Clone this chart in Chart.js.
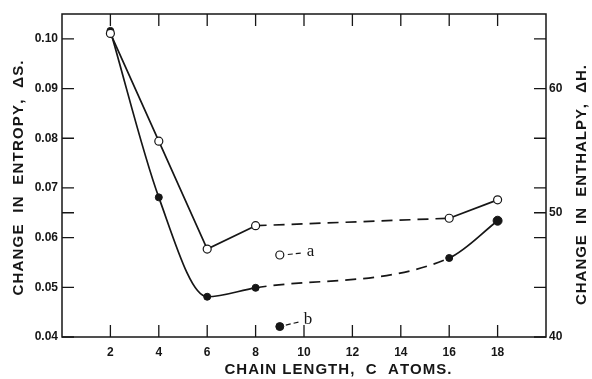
<!DOCTYPE html>
<html>
<head>
<meta charset="utf-8">
<script src="https://cdn.jsdelivr.net/npm/chart.js@4.4.0/dist/chart.umd.min.js"></script>
<style>
  html, body { margin: 0; padding: 0; background: #fff; }
  #wrap { width: 592px; height: 379px; }
</style>
</head>
<body>
<div id="wrap"><canvas id="chart" width="592" height="379"></canvas></div>
<script>
// values
var chainLength = [2, 4, 6, 8, 16, 18];
var entropyA = [0.1011, 0.0794, 0.0577, 0.0624, 0.0639, 0.0676];
var entropyB = [0.1016, 0.0681, 0.0481, 0.0499, 0.0559, 0.0634];
var extraX = [9];
var extraA = [0.0565];
var extraB = [0.0421];
var xTicks = [2, 4, 6, 8, 10, 12, 14, 16, 18];
var leftTicks = [0.04, 0.05, 0.06, 0.065, 0.07, 0.08, 0.09, 0.10];
var rightTicks = [40, 44, 48, 50, 52, 56, 60, 64];
var rightLabels = [40, 50, 60];
var dashFrom = 8, dashTo = 16;

var ink = '#161616';
var tickFont = { family: 'Liberation Sans', size: 12, weight: 'bold' };

function pts(xs, ys) {
  var out = [];
  for (var i in xs) out.push({ x: xs[i], y: ys[i] });
  return out;
}

function dashSeg(ctx) {
  return (ctx.p0.parsed.x === dashFrom && ctx.p1.parsed.x === dashTo) ? [11, 7] : undefined;
}

// draw text char by char so it fills a given length
function spacedText(ctx, text, cx, cy, target) {
  var w = 0, ws = [];
  for (var i = 0; i < text.length; i++) { ws.push(ctx.measureText(text[i]).width); w += ws[i]; }
  var gap = (target - w) / (text.length - 1);
  var x = cx - target / 2;
  ctx.textAlign = 'left';
  for (var j = 0; j < text.length; j++) {
    ctx.fillText(text[j], x, cy);
    x += ws[j] + gap;
  }
}

var decor = {
  id: 'decor',
  afterDraw: function(chart) {
    var c = chart.ctx, a = chart.chartArea;
    var sx = chart.scales.x, sy = chart.scales.y, sy2 = chart.scales.y2;
    c.save();
    c.strokeStyle = ink;
    c.lineWidth = 1.5;
    c.strokeRect(a.left, a.top, a.right - a.left, a.bottom - a.top);

    // inward tick marks
    c.lineWidth = 1.3;
    c.beginPath();
    xTicks.forEach(function(v) {
      var p = sx.getPixelForValue(v);
      c.moveTo(p, a.bottom); c.lineTo(p, a.bottom - 12);
      c.moveTo(p, a.top); c.lineTo(p, a.top + 12);
    });
    leftTicks.forEach(function(v) {
      var p = sy.getPixelForValue(v);
      c.moveTo(a.left, p); c.lineTo(a.left + 12, p);
    });
    rightTicks.forEach(function(v) {
      var p = sy2.getPixelForValue(v);
      c.moveTo(a.right, p); c.lineTo(a.right - 12, p);
    });
    c.stroke();

    // axis titles
    c.fillStyle = ink;
    c.font = 'bold 15px "Liberation Sans"';
    c.textBaseline = 'middle';
    spacedText(c, 'CHAIN LENGTH,  C  ATOMS.', 338, 370, 227);
    c.save();
    c.translate(19, 178);
    c.rotate(-Math.PI / 2);
    spacedText(c, 'CHANGE  IN  ENTROPY,  ΔS.', 0, 0, 235);
    c.restore();
    c.save();
    c.translate(582, 185);
    c.rotate(-Math.PI / 2);
    spacedText(c, 'CHANGE  IN  ENTHALPY,  ΔH.', 0, 0, 240);
    c.restore();

    // leaders for the lone points
    var px = sx.getPixelForValue(extraX[0]);
    var pa = sy.getPixelForValue(extraA[0]);
    var pb = sy.getPixelForValue(extraB[0]);
    c.lineWidth = 1.2;
    c.setLineDash([5, 3]);
    c.beginPath();
    c.moveTo(px + 8, pa - 0.5); c.lineTo(px + 23, pa - 2);
    c.moveTo(px + 6, pb - 1.5); c.lineTo(px + 21, pb - 5);
    c.stroke();
    c.setLineDash([]);
    c.font = '17px "Liberation Serif"';
    c.textAlign = 'left';
    c.textBaseline = 'alphabetic';
    c.fillText('a', px + 27, pa + 1);
    c.fillText('b', px + 24, pb - 3);
    c.restore();
  }
};

new Chart(document.getElementById('chart'), {
  type: 'line',
  data: {
    datasets: [
      {
        data: pts(chainLength, entropyA),
        borderColor: ink,
        borderWidth: 1.7,
        tension: 0,
        pointRadius: 4,
        pointBackgroundColor: '#fff',
        pointBorderColor: ink,
        pointBorderWidth: 1.2,
        segment: { borderDash: dashSeg }
      },
      {
        data: pts(chainLength, entropyB),
        borderColor: ink,
        borderWidth: 1.7,
        cubicInterpolationMode: 'monotone',
        pointRadius: function(ctx) { return ctx.dataIndex === chainLength.length - 1 ? 4.5 : 3.5; },
        pointBackgroundColor: ink,
        pointBorderColor: ink,
        pointBorderWidth: 1,
        segment: { borderDash: dashSeg }
      },
      {
        data: pts(extraX, extraA),
        showLine: false,
        pointRadius: 4,
        pointBackgroundColor: '#fff',
        pointBorderColor: ink,
        pointBorderWidth: 1.2
      },
      {
        data: pts(extraX, extraB),
        showLine: false,
        pointRadius: 4,
        pointBackgroundColor: ink,
        pointBorderColor: ink,
        pointBorderWidth: 1
      }
    ]
  },
  options: {
    responsive: false,
    animation: false,
    devicePixelRatio: 1,
    layout: { padding: { top: 14, left: 0, right: 0, bottom: 0 } },
    plugins: { legend: { display: false }, tooltip: { enabled: false } },
    scales: {
      x: {
        type: 'linear',
        min: 0,
        max: 20,
        afterBuildTicks: function(s) { s.ticks = xTicks.map(function(v) { return { value: v }; }); },
        afterFit: function(s) { s.height = 42; },
        grid: { display: false, drawTicks: false, tickLength: 0 },
        border: { display: false },
        ticks: { font: tickFont, color: ink, padding: 8, maxRotation: 0, autoSkip: false }
      },
      y: {
        position: 'left',
        min: 0.04,
        max: 0.105,
        afterBuildTicks: function(s) { s.ticks = leftTicks.map(function(v) { return { value: v }; }); },
        afterFit: function(s) { s.width = 62; },
        grid: { display: false, drawTicks: false, tickLength: 0 },
        border: { display: false },
        ticks: {
          font: tickFont, color: ink, padding: 4, autoSkip: false,
          callback: function(v) { return Math.abs(v - 0.065) < 1e-6 ? '' : v.toFixed(2); }
        }
      },
      y2: {
        position: 'right',
        min: 40,
        max: 66,
        afterBuildTicks: function(s) { s.ticks = rightTicks.map(function(v) { return { value: v }; }); },
        afterFit: function(s) { s.width = 46; },
        grid: { display: false, drawTicks: false, tickLength: 0 },
        border: { display: false },
        ticks: {
          font: tickFont, color: ink, padding: 3, autoSkip: false,
          callback: function(v) { return rightLabels.indexOf(v) >= 0 ? String(v) : ''; }
        }
      }
    }
  },
  plugins: [decor]
});
</script>
</body>
</html>
